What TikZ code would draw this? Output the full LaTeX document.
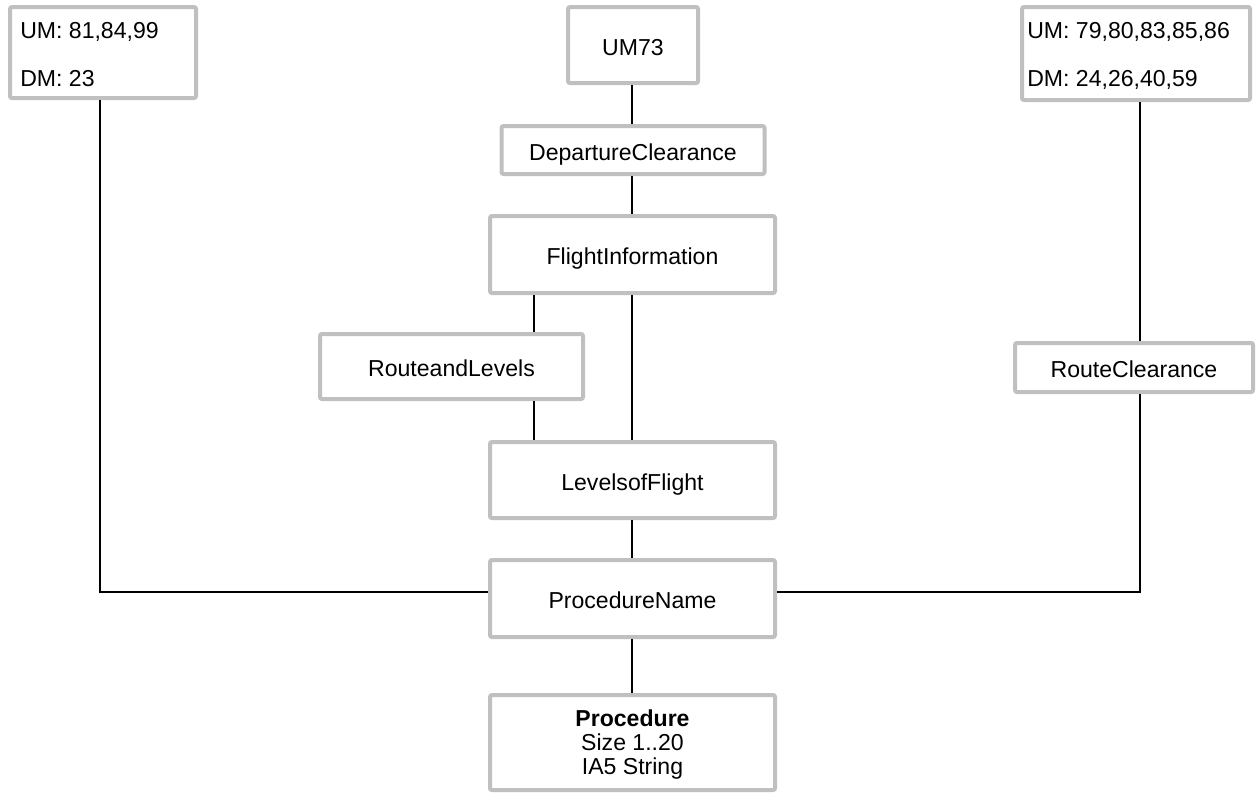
\documentclass[tikz,border=0pt]{standalone}
\usepackage{fontspec}
\setmainfont{Liberation Sans}
\begin{document}
\begin{tikzpicture}[x=0.75pt,y=-0.75pt,
  box/.style={draw=boxgray, line width=3pt, rounded corners=1.5pt, fill=white,
              inner sep=0pt, text height=15pt, text depth=0pt,
              font=\fontsize{17.3}{18}\selectfont},
  sz/.style 2 args={minimum width=#1*0.75pt, minimum height=#2*0.75pt},
  txt/.style={inner sep=0pt, anchor=base west, font=\fontsize{17.3}{18}\selectfont},
  wire/.style={line width=1.5pt, black}]
\definecolor{boxgray}{RGB}{192,192,192}
\useasboundingbox (0,0) rectangle (1256,794);

% central chain
\node[box, sz={130}{76}]  (um73) at (633,45)    {UM73};
\node[box, sz={263}{48}]  (dep)  at (633,150)   {DepartureClearance};
\node[box, sz={285}{77}]  (fi)   at (632.5,254.5) {FlightInformation};
\node[box, sz={263}{65}]  (rl)   at (451.5,366.5) {RouteandLevels};
\node[box, sz={285}{76}]  (lof)  at (632.5,480) {LevelsofFlight};
\node[box, sz={285}{77}]  (pn)   at (632.5,598.5) {ProcedureName};
\node[box, sz={285}{95}, align=center, text height=, text depth=-4.5pt] (proc) at (632.5,742.5)
  {\textbf{Procedure}\\Size 1..20\\IA5 String};

% side message lists
\node[box, sz={186}{91}]  (lt) at (103,52.5) {};
\node[txt] (ltum) at (20,38.5) {UM: 81,84,99};
\node[txt] (ltdm) at (20,86) {DM: 23};
\node[box, sz={228}{93}]  (rt) at (1136,53.5) {};
\node[txt] (rtum) at (1027,38.5) {UM: 79,80,83,85,86};
\node[txt] (rtdm) at (1027,86) {DM: 24,26,40,59};
\node[box, sz={238}{49}]  (rc) at (1134,367.5) {RouteClearance};

% wire positions
\coordinate (cx) at (632,0);
\coordinate (rlx) at (534,0);
\coordinate (lcorner) at (100,592);
\coordinate (rcorner) at (1140,592);

\draw[wire] (um73.south -| cx) -- (dep.north -| cx);
\draw[wire] (dep.south -| cx) -- (fi.north -| cx);
\draw[wire] (fi.south -| cx) -- (lof.north -| cx);
\draw[wire] (fi.south -| rlx) -- (rl.north -| rlx);
\draw[wire] (rl.south -| rlx) -- (lof.north -| rlx);
\draw[wire] (lof.south -| cx) -- (pn.north -| cx);
\draw[wire] (pn.south -| cx) -- (proc.north -| cx);
\draw[wire] (lt.south -| lcorner) -- (lcorner) -- (pn.west |- lcorner);
\draw[wire] (rt.south -| rcorner) -- (rc.north -| rcorner);
\draw[wire] (rc.south -| rcorner) -- (rcorner) -- (pn.east |- rcorner);
\end{tikzpicture}
\end{document}
